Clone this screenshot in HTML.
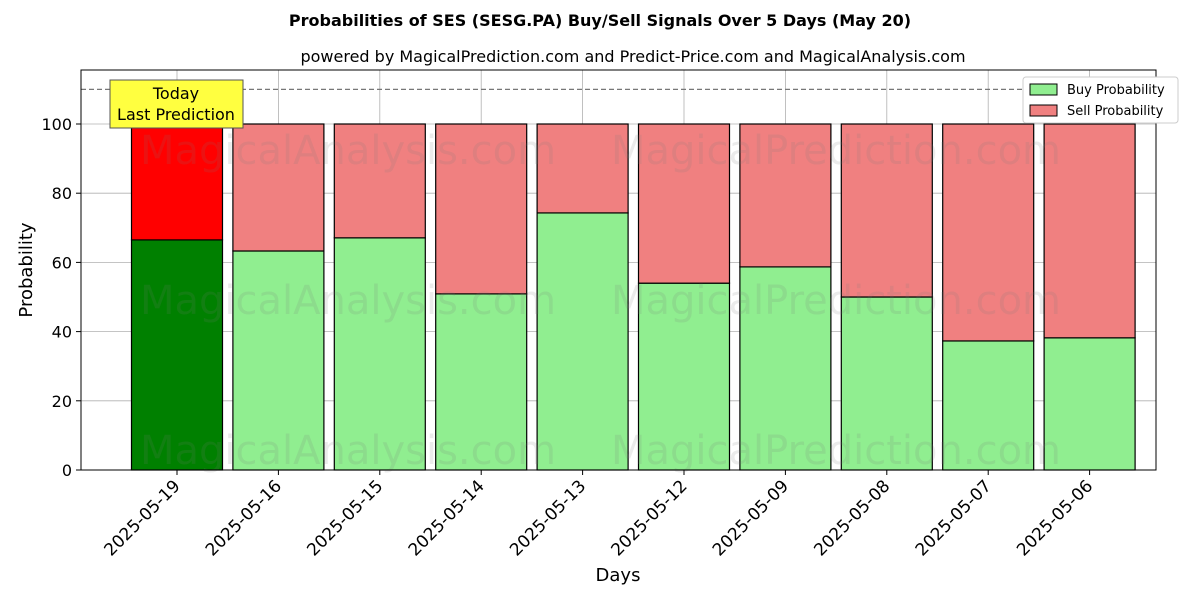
<!DOCTYPE html>
<html><head><meta charset="utf-8"><style>body{margin:0;background:#fff}svg{display:block;font-family:"DejaVu Sans","Liberation Sans",sans-serif}</style></head>
<body>
<svg id="chart" width="1200" height="600">
<text x="600" y="26" text-anchor="middle" font-size="16" font-weight="bold">Probabilities of SES (SESG.PA) Buy/Sell Signals Over 5 Days (May 20)</text>
<text x="633" y="62" text-anchor="middle" font-size="16">powered by MagicalPrediction.com and Predict-Price.com and MagicalAnalysis.com</text>
<g id="plot"></g>
</svg>
<script>
const categories=["2025-05-19","2025-05-16","2025-05-15","2025-05-14","2025-05-13","2025-05-12","2025-05-09","2025-05-08","2025-05-07","2025-05-06"];
const buyValues=[66.5,63.3,67.1,50.9,74.3,54.0,58.7,50.0,37.3,38.2];
const yTicks=[0,20,40,60,80,100];
const ns="http://www.w3.org/2000/svg";
const L=81,R=1156,T=70,B=470;
const y=v=>B-v*3.46;
const step=101.4, x=i=>177+i*step, bw=91;
const g=document.getElementById('plot');
function mk(t,a,p){const e=document.createElementNS(ns,t);for(const k in a)e.setAttribute(k,a[k]);(p||g).appendChild(e);return e;}
yTicks.forEach(v=>{
 const l=mk('line',{x1:L,x2:R,y1:y(v),y2:y(v),stroke:'#b0b0b0','stroke-width':0.8});
 
 
 mk('line',{x1:L-5,x2:L,y1:y(v),y2:y(v),stroke:'#000'});
 const t=mk('text',{x:L-9,y:y(v)+6,'text-anchor':'end','font-size':16});t.textContent=v;
 
 
});
categories.forEach((c,i)=>{
 const l=mk('line',{x1:x(i),x2:x(i),y1:T,y2:B,stroke:'#b0b0b0','stroke-width':0.8});
 
 
});
categories.forEach((c,i)=>{
 const b=buyValues[i];
 const buy=mk('rect',{x:x(i)-bw/2,y:y(b),width:bw,height:y(0)-y(b),fill:i==0?'#008000':'#90ee90',stroke:'#000','stroke-width':1.2});
 
 
 const sell=mk('rect',{x:x(i)-bw/2,y:y(100),width:bw,height:y(b)-y(100),fill:i==0?'#ff0000':'#f08080',stroke:'#000','stroke-width':1.2});
 
 
 mk('line',{x1:x(i),x2:x(i),y1:B,y2:B+5,stroke:'#000'});
 const t=mk('text',{transform:`translate(${x(i)+4},${B+17}) rotate(-45)`,'text-anchor':'end','font-size':17});t.textContent=c;
 
 
});
[[348,150,'MagicalAnalysis.com'],[836,150,'MagicalPrediction.com'],[348,300,'MagicalAnalysis.com'],[836,300,'MagicalPrediction.com'],[348,450,'MagicalAnalysis.com'],[836,450,'MagicalPrediction.com']].forEach(w=>{
 const t=mk('text',{x:w[0],y:w[1]+14,'text-anchor':'middle','font-size':40,fill:'rgba(120,120,120,0.15)'});t.textContent=w[2];
 
 
});
const d=mk('line',{x1:L,x2:R,y1:y(110),y2:y(110),stroke:'#777','stroke-dasharray':'5,3','stroke-width':1.2});


const fr=mk('rect',{x:L,y:T,width:R-L,height:B-T,fill:'none',stroke:'#000','stroke-width':1});


const ab=mk('rect',{x:110,y:80,width:133,height:48,fill:'#ffff40',stroke:'#555'});


const a1=mk('text',{x:176,y:99,'text-anchor':'middle','font-size':16});a1.textContent='Today';


const a2=mk('text',{x:176,y:120,'text-anchor':'middle','font-size':16});a2.textContent='Last Prediction';


const xt=mk('text',{x:618,y:581,'text-anchor':'middle','font-size':18});xt.textContent='Days';


const yt=mk('text',{transform:'translate(32,270) rotate(-90)','text-anchor':'middle','font-size':18});yt.textContent='Probability';


const lg=mk('g',{});


mk('rect',{x:1023,y:77,width:155,height:46,fill:'#fff',stroke:'#ccc',rx:3},lg);
const e1=mk('rect',{x:1030,y:84,width:27,height:11,fill:'#90ee90',stroke:'#000'},lg);


const t1=mk('text',{x:1067,y:94,'font-size':13},lg);t1.textContent='Buy Probability';
const e2=mk('rect',{x:1030,y:105,width:27,height:11,fill:'#f08080',stroke:'#000'},lg);


const t2=mk('text',{x:1067,y:115,'font-size':13},lg);t2.textContent='Sell Probability';
</script>
</body></html>
